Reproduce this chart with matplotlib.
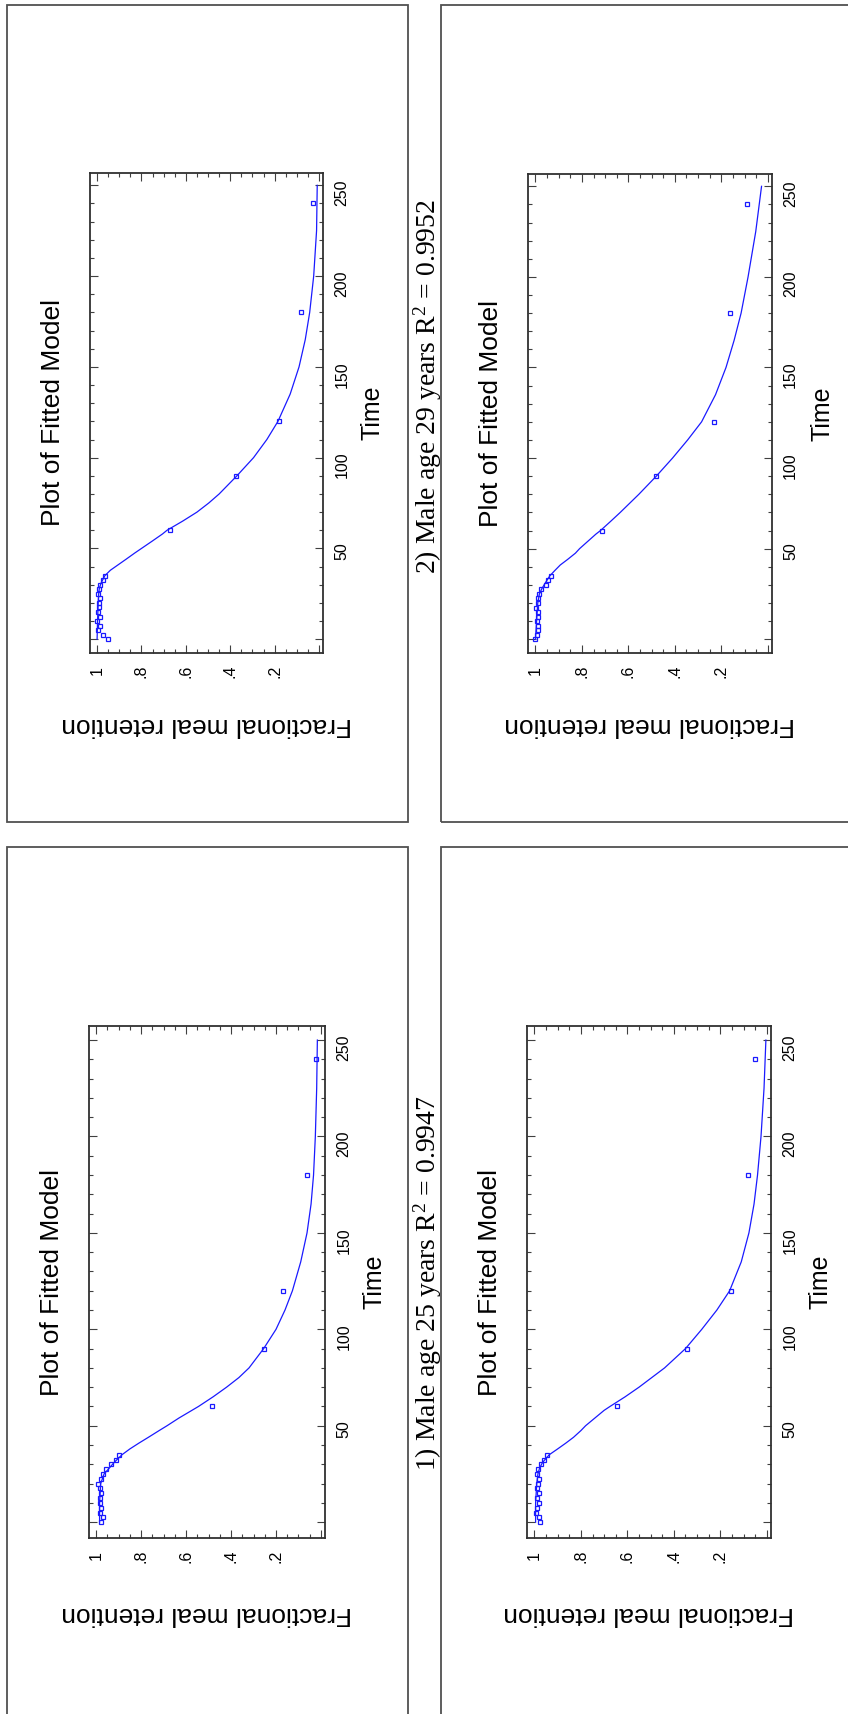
import matplotlib
matplotlib.use("Agg")
import matplotlib.pyplot as plt
from matplotlib.patches import Rectangle
from matplotlib.ticker import FixedLocator, MultipleLocator

plt.rcParams['font.family'] = ['Liberation Sans', 'DejaVu Sans']
plt.rcParams['mathtext.fontset'] = 'custom'
plt.rcParams['mathtext.rm'] = 'Liberation Serif'
plt.rcParams['mathtext.it'] = 'Liberation Serif:italic'
plt.rcParams['mathtext.bf'] = 'Liberation Serif:bold'

# Scan times (min): dynamic frames over the first 35 min, then static images
scan_times = [0, 2.5, 5, 7.5, 10, 12.5, 15, 17.5, 20, 22.5, 25, 27.5, 30, 32.5, 35,
              60, 90, 120, 180, 240]

# Measured fractional meal retention, one list per subject
retention_s1 = [0.978, 0.970, 0.985, 0.978, 0.985, 0.985, 0.978, 0.985, 0.993, 0.978,
                0.970, 0.956, 0.935, 0.910, 0.897, 0.486, 0.255, 0.167, 0.060, 0.023]
retention_s2 = [0.950, 0.973, 0.995, 0.988, 1.000, 0.988, 0.995, 0.992, 0.990, 0.988,
                0.995, 0.990, 0.985, 0.975, 0.965, 0.671, 0.372, 0.180, 0.080, 0.028]
retention_s3 = [0.975, 0.980, 0.994, 0.990, 0.980, 0.990, 0.980, 0.990, 0.985, 0.980,
                0.990, 0.985, 0.972, 0.960, 0.945, 0.643, 0.344, 0.154, 0.082, 0.049]
retention_s4 = [1.000, 0.995, 0.990, 0.990, 0.995, 0.990, 0.987, 0.997, 0.990, 0.987,
                0.985, 0.978, 0.955, 0.945, 0.935, 0.712, 0.481, 0.233, 0.164, 0.089]

# Fitted model curves, sampled at these times
fit_times = [0, 10, 20, 25, 28, 31, 35, 38, 41, 44, 47.5, 50, 54, 58, 60, 65, 70, 75, 80,
             90, 100, 110, 120, 135, 150, 165, 180, 200, 225, 250]
fit_s1 = [0.985, 0.985, 0.980, 0.965, 0.942, 0.920, 0.885, 0.850, 0.810, 0.768, 0.720,
          0.685, 0.632, 0.574, 0.545, 0.480, 0.420, 0.365, 0.320, 0.255, 0.200, 0.160,
          0.127, 0.090, 0.062, 0.044, 0.033, 0.025, 0.019, 0.016]
fit_s2 = [1.000, 0.998, 0.995, 0.993, 0.990, 0.982, 0.965, 0.940, 0.905, 0.870, 0.830,
          0.800, 0.752, 0.705, 0.685, 0.615, 0.550, 0.497, 0.450, 0.370, 0.295, 0.235,
          0.185, 0.130, 0.090, 0.062, 0.042, 0.024, 0.011, 0.008]
fit_s3 = [0.995, 0.995, 0.990, 0.985, 0.978, 0.965, 0.936, 0.900, 0.865, 0.832, 0.800,
          0.780, 0.740, 0.700, 0.675, 0.610, 0.550, 0.495, 0.440, 0.350, 0.280, 0.215,
          0.160, 0.110, 0.077, 0.055, 0.040, 0.025, 0.012, 0.004]
fit_s4 = [1.000, 0.995, 0.990, 0.983, 0.972, 0.958, 0.938, 0.916, 0.893, 0.862, 0.828,
          0.810, 0.775, 0.740, 0.720, 0.677, 0.635, 0.595, 0.555, 0.480, 0.410, 0.345,
          0.285, 0.225, 0.180, 0.145, 0.115, 0.085, 0.052, 0.027]

retention_ticks = [0, 0.2, 0.4, 0.6, 0.8, 1.0]
retention_ticklabels = ['', '.2', '.4', '.6', '.8', '1']
time_ticks = [0, 50, 100, 150, 200, 250]
time_ticklabels = ['', '50', '100', '150', '200', '250']

caption_s1 = r'1) Male age 25 years $\mathrm{R}^{\mathrm{2}}$ = 0.9947'
caption_s2 = r'2) Male age 29 years $\mathrm{R}^{\mathrm{2}}$ = 0.9952'

BLUE = '#1a1aff'
W, H = 848, 1714

fig = plt.figure(figsize=(W / 100, H / 100), dpi=100)
fig.patch.set_facecolor('white')


def fx(x):
    return x / W


def fy(y):
    return 1 - y / H


# Page frames around each figure
frames = [(7, 5, 408, 822), (441, 5, 875, 822), (7, 847, 408, 1740), (441, 847, 875, 1740)]
for x0, y0, x1, y1 in frames:
    fig.add_artist(Rectangle((fx(x0), fy(y1)), (x1 - x0) / W, (y1 - y0) / H,
                             transform=fig.transFigure, fill=False,
                             edgecolor='#505050', lw=1.3))

panels = [
    ((90, 173, 323, 653), retention_s2, fit_s2, (-7.6, 256.8), 72),
    ((528, 174, 772, 653), retention_s4, fit_s4, (-7.6, 256.8), 72),
    ((89, 1026, 325, 1538), retention_s1, fit_s1, (-8.2, 257.3), 76),
    ((527, 1026, 771, 1538), retention_s3, fit_s3, (-8.2, 257.3), 76),
]

for (x0, y0, x1, y1), retention, fit, tlim, lab_off in panels:
    ax = fig.add_axes([fx(x0), fy(y1), (x1 - x0) / W, (y1 - y0) / H])
    ax.plot(fit, fit_times, color=BLUE, lw=0.9)
    ax.plot(retention, scan_times, ls='none', marker='s', ms=3.4,
            mfc='none', mec=BLUE, mew=0.9)
    ax.set_xlim(1.032, -0.018)
    ax.set_ylim(*tlim)
    ax.xaxis.set_major_locator(FixedLocator(retention_ticks))
    ax.xaxis.set_minor_locator(MultipleLocator(0.05))
    ax.set_xticklabels(retention_ticklabels)
    ax.yaxis.set_major_locator(FixedLocator(time_ticks))
    ax.yaxis.set_minor_locator(MultipleLocator(10))
    ax.set_yticklabels(time_ticklabels)
    ax.tick_params(which='both', direction='in', top=True, bottom=True, left=True,
                   right=True, labelleft=False, labelright=True, labelsize=11.5,
                   width=0.8, color='#404040')
    ax.tick_params(which='major', length=5.5)
    ax.tick_params(which='minor', length=3)
    ax.tick_params(axis='x', labelrotation=90, pad=13)
    ax.tick_params(axis='y', labelrotation=90, pad=13.5)
    for lbl in ax.get_xticklabels():
        lbl.set_va('center')
    for lbl in ax.get_yticklabels():
        lbl.set_ha('center')
    for sp in ax.spines.values():
        sp.set_color('#303030')
        sp.set_linewidth(1.3)

    cx, cy = (x0 + x1) / 2, (y0 + y1) / 2
    fig.text(fx(x0 - 37), fy(cy), 'Plot of Fitted Model', rotation=90,
             ha='center', va='center', fontsize=19)
    fig.text(fx(x1 + 50), fy(cy), 'Time', rotation=90,
             ha='center', va='center', fontsize=18)
    fig.text(fx(cx), fy(y1 + lab_off), 'Fractional meal retention', rotation=180,
             ha='center', va='center', fontsize=19)

fig.text(fx(428), fy(386), caption_s2, rotation=90, ha='center', va='center',
         fontsize=20, family='Liberation Serif')
fig.text(fx(428), fy(1283), caption_s1, rotation=90, ha='center', va='center',
         fontsize=20, family='Liberation Serif')

fig.savefig('out.png', dpi=100)
